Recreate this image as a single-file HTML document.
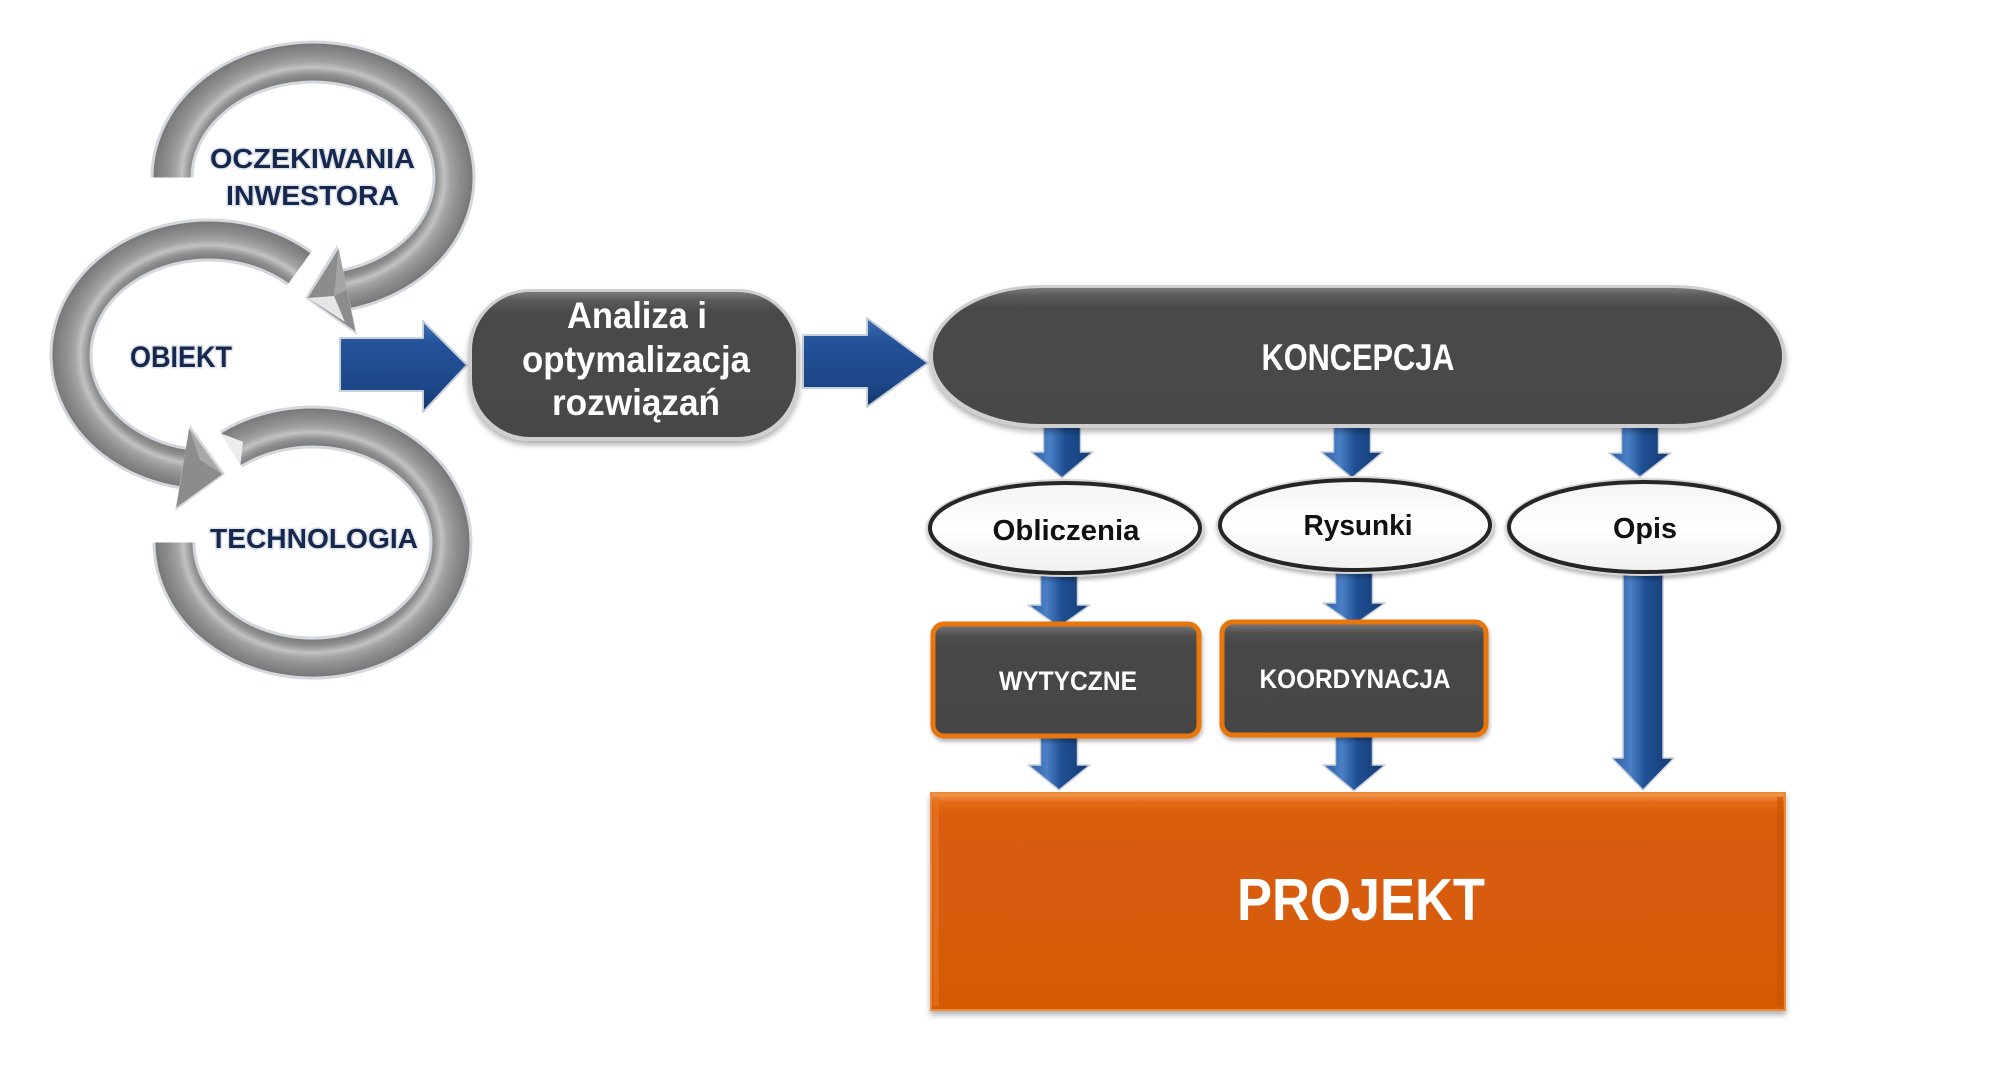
<!DOCTYPE html>
<html><head><meta charset="utf-8">
<style>
html,body{margin:0;padding:0;background:#fff;}
svg{display:block;}
text{font-family:"Liberation Sans",sans-serif;font-weight:bold;}
</style></head>
<body>
<svg width="2000" height="1068" viewBox="0 0 2000 1068" xmlns="http://www.w3.org/2000/svg">
<defs>
  <radialGradient id="rgTop" gradientUnits="userSpaceOnUse" cx="313" cy="177.5" r="160" gradientTransform="translate(313 177.5) scale(1 0.8406) translate(-313 -177.5)">
    <stop offset="0.72" stop-color="#7a7a7a"/><stop offset="0.77" stop-color="#909090"/><stop offset="0.82" stop-color="#c2c2c2"/><stop offset="0.86" stop-color="#a3a3a3"/><stop offset="0.92" stop-color="#8d8d8d"/><stop offset="0.97" stop-color="#808080"/><stop offset="1" stop-color="#767676"/>
  </radialGradient>
  <radialGradient id="rgMid" gradientUnits="userSpaceOnUse" cx="209" cy="355" r="157" gradientTransform="translate(209 355) scale(1 0.8535) translate(-209 -355)">
    <stop offset="0.72" stop-color="#7a7a7a"/><stop offset="0.77" stop-color="#909090"/><stop offset="0.82" stop-color="#c2c2c2"/><stop offset="0.86" stop-color="#a3a3a3"/><stop offset="0.92" stop-color="#8d8d8d"/><stop offset="0.97" stop-color="#808080"/><stop offset="1" stop-color="#767676"/>
  </radialGradient>
  <radialGradient id="rgBot" gradientUnits="userSpaceOnUse" cx="312.5" cy="542.5" r="157.5" gradientTransform="translate(312.5 542.5) scale(1 0.854) translate(-312.5 -542.5)">
    <stop offset="0.72" stop-color="#7a7a7a"/><stop offset="0.77" stop-color="#909090"/><stop offset="0.82" stop-color="#c2c2c2"/><stop offset="0.86" stop-color="#a3a3a3"/><stop offset="0.92" stop-color="#8d8d8d"/><stop offset="0.97" stop-color="#808080"/><stop offset="1" stop-color="#767676"/>
  </radialGradient>
  <linearGradient id="blueH" x1="0" y1="0" x2="0" y2="1">
    <stop offset="0" stop-color="#3f70b3"/><stop offset="0.25" stop-color="#24539a"/><stop offset="0.75" stop-color="#1c4687"/><stop offset="1" stop-color="#13366b"/>
  </linearGradient>
  <linearGradient id="blueV" x1="0" y1="0" x2="1" y2="0">
    <stop offset="0" stop-color="#2a5da3"/><stop offset="0.3" stop-color="#4a80c6"/><stop offset="0.55" stop-color="#1f4f93"/><stop offset="1" stop-color="#143a72"/>
  </linearGradient>
  <linearGradient id="pillG" x1="0" y1="0" x2="0" y2="1">
    <stop offset="0" stop-color="#7a7a7a"/><stop offset="0.06" stop-color="#5a5a5a"/><stop offset="0.14" stop-color="#4a4a4a"/><stop offset="1" stop-color="#474747"/>
  </linearGradient>
  <linearGradient id="boxG" x1="0" y1="0" x2="0" y2="1">
    <stop offset="0" stop-color="#7c7c7c"/><stop offset="0.1" stop-color="#505050"/><stop offset="0.2" stop-color="#474747"/><stop offset="1" stop-color="#454545"/>
  </linearGradient>
  <linearGradient id="projG" x1="0" y1="0" x2="0" y2="1">
    <stop offset="0" stop-color="#f4a056"/><stop offset="0.04" stop-color="#e36c18"/><stop offset="0.1" stop-color="#d95d08"/><stop offset="1" stop-color="#d65a06"/>
  </linearGradient>
  <linearGradient id="ellG" x1="0" y1="0" x2="0" y2="1">
    <stop offset="0" stop-color="#f4f4f4"/><stop offset="0.5" stop-color="#ffffff"/><stop offset="1" stop-color="#f0f0f0"/>
  </linearGradient>
  <filter id="sh" x="-10%" y="-20%" width="120%" height="150%">
    <feDropShadow dx="0" dy="4" stdDeviation="3" flood-color="#000" flood-opacity="0.3"/>
  </filter>
  <filter id="sh2" x="-10%" y="-20%" width="120%" height="150%">
    <feDropShadow dx="1" dy="3" stdDeviation="2" flood-color="#000" flood-opacity="0.3"/>
  </filter>
</defs>

<!-- top ring -->
<path d="M172,177.5 A141,115.5 0 1 1 347.1,289.6" fill="none" stroke="#d3d8de" stroke-width="43"/>
<path d="M172,177.5 A141,115.5 0 1 1 347.1,289.6" fill="none" stroke="url(#rgTop)" stroke-width="37"/>
<polygon points="357,335 337,245 305,298" fill="#d3d8de"/>
<polygon points="355.4,331.2 338.6,248.8 307.8,298" fill="#8c8c8c"/>
<polygon points="307.8,298 334,296 345,322" fill="#e6e6e6"/>
<polygon points="338.6,248.8 334,296 347,290" fill="#a5a5a5"/>

<!-- middle ring -->
<path d="M299.5,268.2 A138,115 0 1 0 182.7,467.9" fill="none" stroke="#d3d8de" stroke-width="43"/>
<path d="M299.5,268.2 A138,115 0 1 0 182.7,467.9" fill="none" stroke="url(#rgMid)" stroke-width="37"/>
<polygon points="175,511 190,425 225,474" fill="#d3d8de"/>
<polygon points="176.3,507.4 189.1,428.4 222.2,474.3" fill="#8c8c8c"/>
<polygon points="189.1,428.4 200,460 222.2,474.3" fill="#a8a8a8"/>

<!-- bottom ring -->
<path d="M231.1,449.1 A138.5,115.5 0 1 1 174,542.5" fill="none" stroke="#d3d8de" stroke-width="43"/>
<path d="M231.1,449.1 A138.5,115.5 0 1 1 174,542.5" fill="none" stroke="url(#rgBot)" stroke-width="37"/>
<polygon points="221.8,433.7 240.4,464.5 243,441.8" fill="#ececec"/>

<g fill="#17284f" stroke="#dfe4ea" stroke-width="3" paint-order="stroke" text-anchor="middle">
  <text x="312.5" y="168" font-size="28" textLength="205" lengthAdjust="spacingAndGlyphs">OCZEKIWANIA</text>
  <text x="312.5" y="205" font-size="28" textLength="173" lengthAdjust="spacingAndGlyphs">INWESTORA</text>
  <text x="181" y="367" font-size="30" textLength="102" lengthAdjust="spacingAndGlyphs">OBIEKT</text>
  <text x="314" y="548" font-size="28" textLength="208" lengthAdjust="spacingAndGlyphs">TECHNOLOGIA</text>
</g>

<g stroke="#c9d0da" stroke-width="2" stroke-linejoin="round">
  <polygon points="340,338 423,338 423,321 467,365 423,412 423,391 340,391" fill="url(#blueH)"/>
  <polygon points="803,335 867,335 867,318 928,363 867,407 867,388 803,388" fill="url(#blueH)"/>
</g>

<g filter="url(#sh)">
  <rect x="468" y="289" width="332" height="152" rx="62" ry="62" fill="#cfcfcf"/>
  <rect x="472" y="292" width="324" height="145" rx="58" ry="58" fill="url(#pillG)"/>
</g>
<g fill="#ffffff" text-anchor="middle" font-size="37">
  <text x="637" y="328" textLength="140" lengthAdjust="spacingAndGlyphs">Analiza i</text>
  <text x="636" y="372" textLength="228" lengthAdjust="spacingAndGlyphs">optymalizacja</text>
  <text x="636" y="415" textLength="168" lengthAdjust="spacingAndGlyphs">rozwiązań</text>
</g>

<g fill="url(#blueV)" stroke="#c9d0da" stroke-width="1.5" stroke-linejoin="round">
  <polygon points="1043.5,425 1080.5,425 1080.5,452 1093,452 1062,478 1031,452 1043.5,452"/>
  <polygon points="1333.5,425 1370.5,425 1370.5,452 1383,452 1352,478 1321,452 1333.5,452"/>
  <polygon points="1621.5,425 1658.5,425 1658.5,453 1671,453 1640,477 1609,453 1621.5,453"/>
  <polygon points="1040.5,570 1077.5,570 1077.5,605 1090,605 1059,627 1028,605 1040.5,605"/>
  <polygon points="1335.5,568 1372.5,568 1372.5,603 1385,603 1354,625 1323,603 1335.5,603"/>
  <polygon points="1040.5,734 1077.5,734 1077.5,765 1090,765 1059,790 1028,765 1040.5,765"/>
  <polygon points="1335.5,733 1372.5,733 1372.5,765 1385,765 1354,791 1323,765 1335.5,765"/>
  <polygon points="1623,570 1663,570 1663,758 1674,758 1643,790 1612,758 1623,758"/>
</g>

<g filter="url(#sh)">
  <rect x="929" y="285" width="857" height="143" rx="112" ry="71.5" fill="#cfcfcf"/>
  <rect x="933" y="288" width="849" height="136" rx="108" ry="68" fill="url(#pillG)"/>
</g>
<text x="1358" y="370" font-size="37" fill="#ffffff" text-anchor="middle" textLength="193" lengthAdjust="spacingAndGlyphs">KONCEPCJA</text>

<g filter="url(#sh2)">
  <ellipse cx="1065" cy="528" rx="139" ry="49" fill="#d6d6d6"/>
  <ellipse cx="1065" cy="528" rx="135" ry="45" fill="url(#ellG)" stroke="#262626" stroke-width="4"/>
  <ellipse cx="1355" cy="525" rx="139" ry="49" fill="#d6d6d6"/>
  <ellipse cx="1355" cy="525" rx="135" ry="45" fill="url(#ellG)" stroke="#262626" stroke-width="4"/>
  <ellipse cx="1644" cy="527" rx="139" ry="49" fill="#d6d6d6"/>
  <ellipse cx="1644" cy="527" rx="135" ry="45" fill="url(#ellG)" stroke="#262626" stroke-width="4"/>
</g>
<g fill="#111111" text-anchor="middle" font-size="29">
  <text x="1066" y="540" textLength="147" lengthAdjust="spacingAndGlyphs">Obliczenia</text>
  <text x="1358" y="535" textLength="109" lengthAdjust="spacingAndGlyphs">Rysunki</text>
  <text x="1645" y="538" textLength="64" lengthAdjust="spacingAndGlyphs">Opis</text>
</g>

<g filter="url(#sh2)">
  <rect x="931" y="622" width="270" height="116" rx="12" fill="#f2c08e"/>
  <rect x="933" y="624" width="266" height="112" rx="11" fill="url(#boxG)" stroke="#e9740e" stroke-width="5"/>
  <rect x="1220" y="620" width="268" height="117" rx="12" fill="#f2c08e"/>
  <rect x="1222" y="622" width="264" height="113" rx="11" fill="url(#boxG)" stroke="#e9740e" stroke-width="5"/>
</g>
<g fill="#ffffff" text-anchor="middle" font-size="27">
  <text x="1068" y="690" textLength="138" lengthAdjust="spacingAndGlyphs">WYTYCZNE</text>
  <text x="1355" y="688" textLength="191" lengthAdjust="spacingAndGlyphs">KOORDYNACJA</text>
</g>

<g filter="url(#sh)">
  <rect x="931" y="793" width="854" height="217" fill="url(#projG)" stroke="#ec8a3a" stroke-width="2"/>
</g>
<rect x="933" y="797" width="6" height="209" fill="#e5772a" opacity="0.6"/>
<rect x="1777" y="797" width="6" height="209" fill="#c75205" opacity="0.6"/>
<text x="1361" y="920" font-size="59" fill="#ffffff" text-anchor="middle" textLength="248" lengthAdjust="spacingAndGlyphs">PROJEKT</text>
</svg>
</body></html>
